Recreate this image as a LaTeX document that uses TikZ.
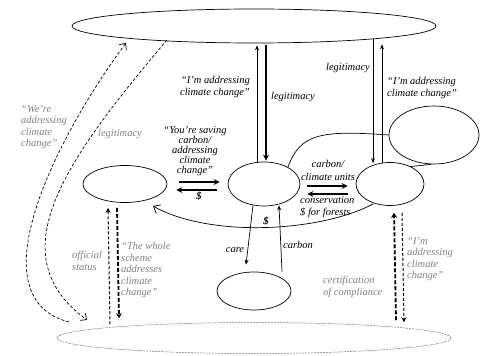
\documentclass[tikz,border=0pt]{standalone}
\usepackage{fontspec}
\setmainfont{Liberation Serif}
\usetikzlibrary{shapes.geometric, arrows.meta, positioning, calc}

\begin{document}
\begin{tikzpicture} [x=1pt, y=1pt, on grid, font=\fontsize{10.5}{11.5}\selectfont\itshape,
    actor/.style={ellipse, draw, line width=0.7pt, inner sep=0pt},
    note/.style={align=left, inner sep=0pt},
    quiet/.style={note, text=black!50},
    slim/.style={-{Stealth[length=5pt, width=4pt]}, line width=0.7pt},
    heavy/.style={-{Stealth[length=6pt, width=6pt]}, line width=1.8pt},
    hint/.style={-{Stealth[length=5pt, width=5pt]}, line width=1pt, dash pattern=on 3pt off 2pt},
    strong hint/.style={-{Stealth[length=5pt, width=6pt]}, line width=1.8pt, dash pattern=on 4pt off 2pt},
    swing/.style={-{Straight Barb[length=5pt, width=9pt]}, line width=0.7pt, dash pattern=on 3pt off 2pt}]
    \useasboundingbox (0,0) rectangle (480,356);

    \node (consumer) [actor, minimum width=84pt, minimum height=37pt] at (125,172) {};
    \node (retailer) [actor, minimum width=72pt, minimum height=44pt, right = 139pt of consumer] {};
    \node (project) [actor, minimum width=68pt, minimum height=43pt, right = 126pt of retailer] {};
    \node (public) [actor, minimum width=364pt, minimum height=34pt, above left = 158pt and 10pt of retailer] {};
    \node (partner) [actor, minimum width=90pt, minimum height=58pt, above right = 49pt and 44pt of project] {};
    \node (forest) [actor, minimum width=74pt, minimum height=38pt, below left = 107pt and 10pt of retailer] {};
    \node (standard) [actor, draw=black!55, line width=0.5pt, dash pattern=on 2pt off 1pt,
        minimum width=394pt, minimum height=31pt, below = 47pt of forest] {};

    \draw [slim, shorten >=2pt] ($(retailer.north)+(-7,0)$) -- ($(public.south)+(3,0)$);
    \draw [heavy, shorten <=2pt, shorten >=1pt] ($(public.south)+(12,0)$) -- ($(retailer.north)+(2,0)$);
    \draw [slim] ($(public.south)+(119,4)$) -- ($(project.north)+(-17,-1)$);
    \draw [slim, shorten >=6pt] ($(project.north)+(-8,-1)$) -- ($(public.south)+(128,5)$);
    \node [note, align=right, anchor=east] at (250,269) {“I'm addressing\\climate change”};
    \node [note] at (293,259) {legitimacy};
    \node [note] at (348,288) {legitimacy};
    \node [note, anchor=west] at (387,268) {“I'm addressing\\climate change”};

    \draw [heavy] ($(consumer.east)+(12,2)$) -- ($(retailer.west)+(-8,2)$);
    \draw [heavy] ($(retailer.west)+(-11,-6)$) -- ($(consumer.east)+(9,-6)$);
    \node [note, align=center, font=\fontsize{10.5}{10}\selectfont\itshape] at (195,205)
        {“You're saving\\carbon/\\addressing\\climate\\change”};
    \node [note] at (199,160) {\textbf{\$}};

    \draw [heavy] ($(retailer.east)+(7,-2)$) -- ($(project.west)+(-8,-2)$);
    \draw [heavy] ($(project.west)+(-8,-10)$) -- ($(retailer.east)+(7,-10)$);
    \node [note, align=center, font=\fontsize{10.5}{13}\selectfont\itshape] at (328,186) {carbon/\\climate units};
    \node [note, anchor=west] at (300,149) {conservation\\\$ for forests};

    \draw [-{Straight Barb[length=6pt, width=10pt]}, line width=0.7pt]
        ($(project.center)+(-17,-20)$) .. controls (320,124) and (210,118) .. ($(consumer.center)+(28,-22)$);
    \node [note] at (266,135) {\textbf{\$}};

    \draw [line width=0.7pt] (retailer.35) .. controls (300,222) and (320,226) .. (partner.west);
    \draw [line width=0.7pt] (project.40) -- (partner.265);

    \draw [slim] ($(retailer.south)+(-11,1)$) -- ($(forest.north)+(-8,7)$);
    \draw [slim] ($(forest.north)+(28,0)$) -- ($(retailer.south)+(15,1)$);
    \node [note] at (235,106) {care};
    \node [note] at (298,111) {carbon};

    \draw [hint] ($(standard.north)+(-144,-2)$) -- ($(consumer.south)+(-17,-5)$);
    \draw [strong hint] ($(consumer.south)+(-8,-5)$) -- ($(standard.north)+(-135,4)$);
    \draw [strong hint] ($(standard.north)+(142,2)$) -- ($(project.south)+(4,-7)$);
    \draw [hint] ($(project.south)+(12,-7)$) -- ($(standard.north)+(150,0)$);
    \node [quiet, anchor=west] at (72,95) {official\\status};
    \node [quiet, anchor=west] at (121,86) {“The whole\\scheme\\addresses\\climate\\change”};
    \node [quiet, anchor=west] at (407,97) {“I'm\\addressing\\climate\\change”};
    \node [quiet, anchor=west] at (323,69) {certification\\of compliance};

    \draw [swing] ($(standard.center)+(-185,16)$) .. controls (-30,60) and (66,233) .. ($(public.center)+(-128,-17)$);
    \draw [swing] ($(public.center)+(-87,-14)$) .. controls (60,190) and (0,100) .. ($(standard.center)+(-167,18)$);
    \node [quiet, anchor=west] at (21,229) {“We're\\addressing\\climate\\change”};
    \node [quiet] at (120,222) {legitimacy};

\end{tikzpicture}
\end{document}
